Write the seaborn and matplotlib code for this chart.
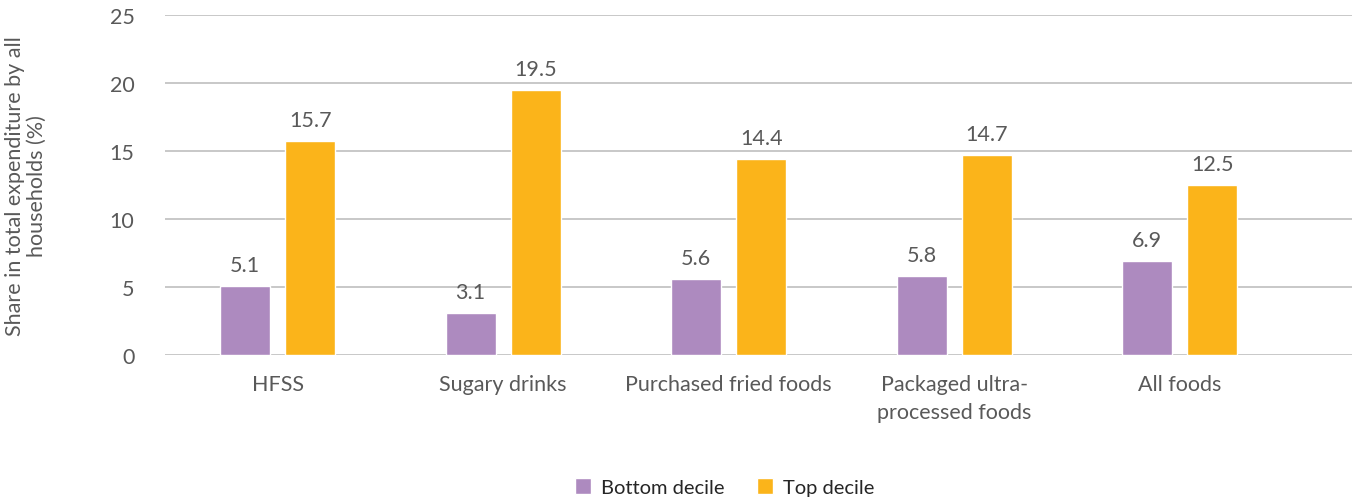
import pandas as pd
import matplotlib.pyplot as plt
import seaborn as sns

categories = ["HFSS", "Sugary drinks", "Purchased fried foods",
              "Packaged ultra-\nprocessed foods", "All foods"]
bottom_decile = [5.1, 3.1, 5.6, 5.8, 6.9]
top_decile = [15.7, 19.5, 14.4, 14.7, 12.5]
series = ["Bottom decile", "Top decile"]
colors = ["#AD8ABF", "#FBB41A"]

df = pd.DataFrame({
    "category": categories * 2,
    "decile": [series[0]] * 5 + [series[1]] * 5,
    "share": bottom_decile + top_decile,
})

sns.set_style("white")
plt.rcParams['font.family'] = ['Lato', 'DejaVu Sans']
txt = "#595959"
fs = 15.5

fig = plt.figure(figsize=(13.57, 5.02), dpi=100)
ax = fig.add_axes([165 / 1357, 1 - 356 / 502, (1352 - 165) / 1357, 340 / 502])

sns.barplot(data=df, x="category", y="share", hue="decile", palette=colors,
            width=0.577, gap=0.23, saturation=1, ax=ax, legend=True)

for cont in ax.containers:
    ax.bar_label(cont, fmt="%.1f", padding=8, fontsize=fs, color=txt)

ax.set_ylim(0, 25)
ax.set_yticks([0, 5, 10, 15, 20, 25])
ax.set_xlim(-0.5, 4.765)
ax.yaxis.grid(True, color="#BFBFBF", linewidth=1.2)
ax.set_axisbelow(True)
for s in ax.spines.values():
    s.set_visible(False)
ax.tick_params(axis="y", length=0, pad=22, labelsize=fs, labelcolor=txt)
ax.tick_params(axis="x", length=0, pad=14, labelsize=fs, labelcolor=txt)
for lab in ax.get_xticklabels():
    lab.set_linespacing(1.45)
ax.set_xlabel("")
ax.set_ylabel("Share in total expenditure by all\nhouseholds (%)", fontsize=fs,
              color=txt, linespacing=1.1)
ax.yaxis.set_label_coords(-118 / 1187, 0.5)

handles, labels = ax.get_legend_handles_labels()
ax.legend(handles, labels, loc="center", bbox_to_anchor=(725 / 1357, 14 / 502),
          bbox_transform=fig.transFigure, ncol=2, frameon=False, fontsize=14.5,
          handlelength=0.8, handleheight=0.8, handletextpad=0.5, columnspacing=1.6,
          labelcolor="#262626")

fig.savefig("out.png", dpi=100)
